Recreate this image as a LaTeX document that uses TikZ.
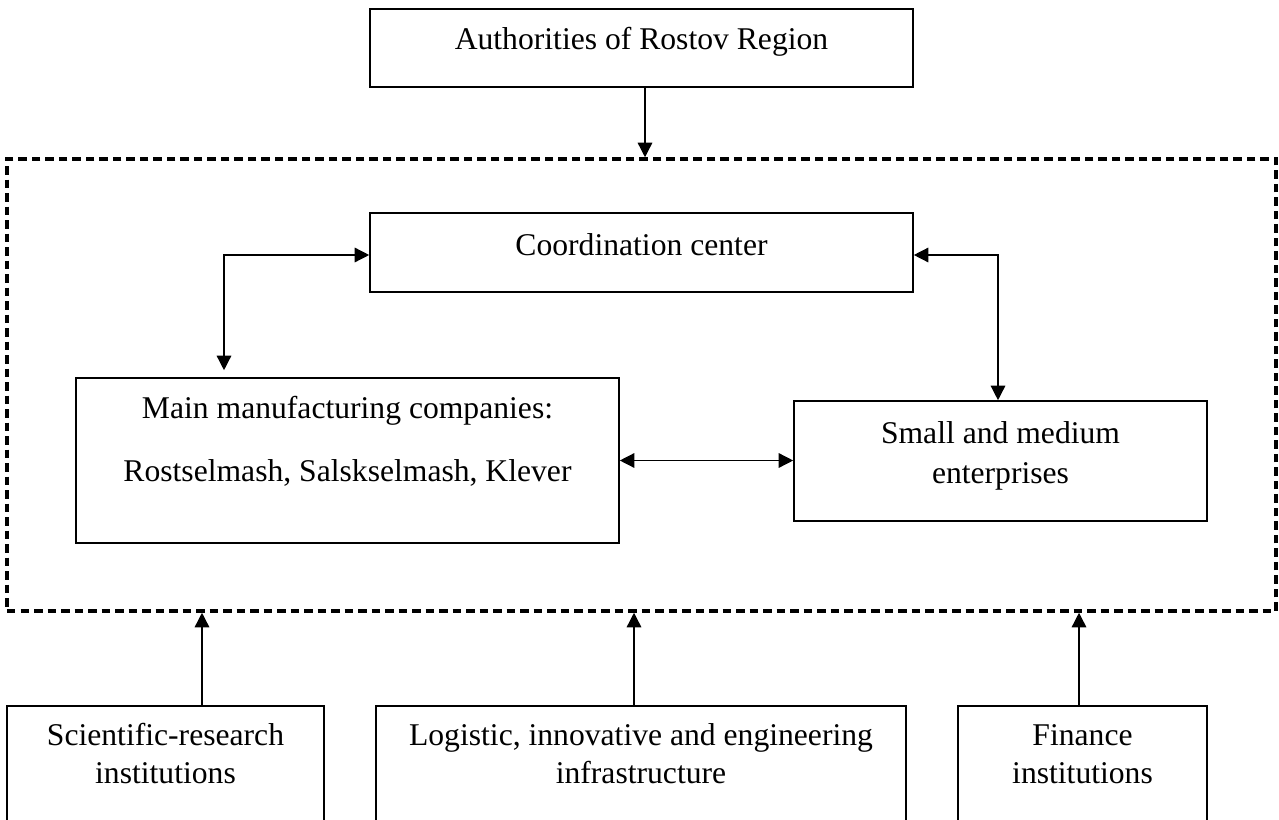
\documentclass[tikz,border=0pt]{standalone}
\usepackage{fontspec}
\setmainfont{Liberation Serif}
\usetikzlibrary{arrows.meta}

\begin{document}
\begin{tikzpicture}[x=1cm,y=1cm,
    box/.style={draw, line width=.9pt, inner sep=0pt, align=center,
      font=\fontsize{18}{21.5}\selectfont},
    cluster/.style={draw, line width=2pt, inner sep=0pt,
      dash pattern=on .17cm off .1cm},
    link/.style={line width=.8pt, -{Triangle[length=.29cm,width=.29cm]}},
    twoway/.style={line width=.8pt,
      {Triangle[length=.29cm,width=.29cm]}-{Triangle[length=.29cm,width=.29cm]}}]
  \useasboundingbox (0,0) rectangle (25.58,-16.4);
  \clip (0,0) rectangle (25.58,-16.4);

  % Region authorities above the cluster.
  \node[box, minimum width=10.86cm, minimum height=1.56cm,
    text height=.82cm, text depth=.74cm] (authorities) at (12.83,-.96)
    {Authorities of Rostov Region};

  % The cluster with its members.
  \node[cluster, minimum width=25.38cm, minimum height=9.04cm]
    (cluster) at (12.83,-7.70) {};
  \node[box, minimum width=10.86cm, minimum height=1.58cm,
    text height=.84cm, text depth=.74cm] (coordination) at (12.83,-5.05)
    {Coordination center};
  \node[box, minimum width=10.86cm, minimum height=3.30cm,
    text height=2.06cm, text depth=1.24cm] (manufacturers) at (6.95,-9.21)
    {Main manufacturing companies:\\[14pt]
     Rostselmash, Salskselmash, Klever};
  \node[box, minimum width=8.26cm, minimum height=2.40cm,
    text height=1.64cm, text depth=.76cm] (enterprises) at (20.01,-9.22)
    {Small and medium\\[1pt]enterprises};

  % Supporting institutions below, cut by the page edge.
  \node[box, minimum width=6.34cm, minimum height=2.40cm,
    text height=1.54cm, text depth=.86cm] (science) at (3.31,-15.32)
    {Scientific-research\\institutions};
  \node[box, minimum width=10.60cm, minimum height=2.40cm,
    text height=1.54cm, text depth=.86cm] (infrastructure) at (12.82,-15.32)
    {Logistic, innovative and engineering\\infrastructure};
  \node[box, minimum width=4.98cm, minimum height=2.40cm,
    text height=1.54cm, text depth=.86cm] (finance) at (21.65,-15.32)
    {Finance\\institutions};

  \draw[link] ([xshift=.07cm]authorities.south)
    -- ([xshift=.07cm]authorities.south |- cluster.north);
  \draw[twoway] ([yshift=-.05cm]coordination.west)
    -| ([xshift=-2.47cm,yshift=.14cm]manufacturers.north);
  \draw[twoway] ([yshift=-.05cm]coordination.east)
    -| ([xshift=-.05cm]enterprises.north);
  \draw[twoway] (manufacturers.east) -- (manufacturers.east -| enterprises.west);

  \draw[link] ([xshift=.73cm]science.north)
    -- ([xshift=.73cm]science.north |- cluster.south);
  \draw[link] ([xshift=-.14cm]infrastructure.north)
    -- ([xshift=-.14cm]infrastructure.north |- cluster.south);
  \draw[link] ([xshift=-.07cm]finance.north)
    -- ([xshift=-.07cm]finance.north |- cluster.south);
\end{tikzpicture}
\end{document}
